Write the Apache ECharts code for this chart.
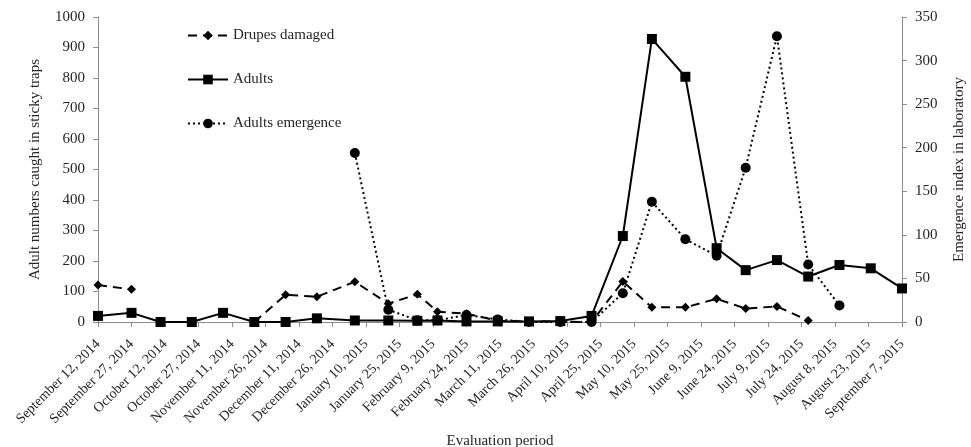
<!DOCTYPE html>
<html>
<head>
<meta charset="utf-8">
<script src="https://cdn.jsdelivr.net/npm/echarts@6/dist/echarts.min.js"></script>
<style>html,body{margin:0;padding:0;background:#fff}#c{width:971px;height:447px}</style>
</head>
<body>
<div id="c"></div>
<script>
// Sampling dates
const sampleDates = ['2014-09-12','2014-09-27','2014-10-10','2014-10-24','2014-11-07','2014-11-21','2014-12-05','2014-12-19',
  '2015-01-05','2015-01-20','2015-02-02','2015-02-11','2015-02-24','2015-03-10','2015-03-24','2015-04-07','2015-04-21',
  '2015-05-05','2015-05-18','2015-06-02','2015-06-16','2015-06-29','2015-07-13','2015-07-27','2015-08-10','2015-08-24','2015-09-07'];
const adults = [20,30,0,0,30,0,0,12,5,5,4,5,2,2,2,3,20,282,928,804,242,170,203,149,187,176,110];
const drupesDamaged = [121,107,null,null,null,0,89,83,132,60,91,34,27,4,2,1,0,133,48,48,76,44,51,5,null,null,null];
const adultsEmergence = [null,null,null,null,null,null,null,null,194,14,2,2,8,3,0,0,0,33,138,95,76,177,328,66,19,null,null];
const tickLabels = ['September 12, 2014','September 27, 2014','October 12, 2014','October 27, 2014','November 11, 2014',
  'November 26, 2014','December 11, 2014','December 26, 2014','January 10, 2015','January 25, 2015','February 9, 2015',
  'February 24, 2015','March 11, 2015','March 26, 2015','April 10, 2015','April 25, 2015','May 10, 2015','May 25, 2015',
  'June 9, 2015','June 24, 2015','July 9, 2015','July 24, 2015','August 8, 2015','August 23, 2015','September 7, 2015'];
const startDate = '2014-09-12';
const tickStepDays = 15;

const dayOf = s => Math.round((Date.parse(s) - Date.parse(startDate)) / 86400000);
const pair = arr => sampleDates.map((d, i) => [dayOf(d), arr[i]]);

const FONT = '"Liberation Serif", "Times New Roman", serif';
const TXT = '#262626';
const AX = '#8c8c8c';

const chart = echarts.init(document.getElementById('c'), null, {renderer: 'canvas'});
chart.setOption({
  animation: false,
  backgroundColor: '#fff',
  textStyle: {fontFamily: FONT, color: TXT},
  grid: {left: 98, right: 69, top: 17, bottom: 125, containLabel: false, outerBoundsMode: 'none'},
  legend: {
    orient: 'vertical', left: 182, top: 23, itemWidth: 40, itemHeight: 12, itemGap: 29,
    textStyle: {fontFamily: FONT, fontSize: 15, color: TXT},
    data: ['Drupes damaged', 'Adults', 'Adults emergence']
  },
  xAxis: {
    type: 'value', min: 0, max: tickLabels.length * tickStepDays - tickStepDays, interval: tickStepDays,
    name: 'Evaluation period', nameLocation: 'middle', nameGap: 105,
    nameTextStyle: {fontFamily: FONT, fontSize: 15, color: TXT},
    axisLine: {lineStyle: {color: AX, width: 1}},
    axisTick: {show: true, length: 5, lineStyle: {color: AX}},
    splitLine: {show: false},
    axisLabel: {rotate: 45, margin: 20, fontFamily: FONT, fontSize: 14, color: TXT,
      formatter: v => tickLabels[Math.round(v / tickStepDays)] || ''}
  },
  yAxis: [{
    type: 'value', min: 0, max: 1000, interval: 100, position: 'left',
    name: 'Adult numbers caught in sticky traps', nameLocation: 'middle', nameGap: 55, nameRotate: 90,
    nameTextStyle: {fontFamily: FONT, fontSize: 15, color: TXT},
    axisLine: {show: true, lineStyle: {color: AX}},
    axisTick: {show: true, length: 5, lineStyle: {color: AX}},
    splitLine: {show: false},
    axisLabel: {margin: 13, fontFamily: FONT, fontSize: 15, color: TXT, formatter: v => String(v)}
  }, {
    type: 'value', min: 0, max: 350, interval: 50, position: 'right',
    name: 'Emergence index in laboratory', nameLocation: 'middle', nameGap: 50, nameRotate: 90,
    nameTextStyle: {fontFamily: FONT, fontSize: 15, color: TXT},
    axisLine: {show: true, lineStyle: {color: AX}},
    axisTick: {show: true, length: 5, lineStyle: {color: AX}},
    splitLine: {show: false},
    axisLabel: {margin: 13, fontFamily: FONT, fontSize: 15, color: TXT, formatter: v => String(v)}
  }],
  series: [{
    name: 'Drupes damaged', type: 'line', yAxisIndex: 0, data: pair(drupesDamaged),
    symbol: 'diamond', symbolSize: 9, connectNulls: false,
    lineStyle: {color: '#000', width: 2, type: [9, 6]},
    itemStyle: {color: '#000'}
  }, {
    name: 'Adults', type: 'line', yAxisIndex: 0, data: pair(adults),
    symbol: 'rect', symbolSize: 10,
    lineStyle: {color: '#000', width: 2, type: 'solid'},
    itemStyle: {color: '#000'}
  }, {
    name: 'Adults emergence', type: 'line', yAxisIndex: 1, data: pair(adultsEmergence),
    symbol: 'circle', symbolSize: 10, connectNulls: false,
    lineStyle: {color: '#000', width: 2, type: [2, 3]},
    itemStyle: {color: '#000'}
  }]
});
</script>
</body>
</html>
